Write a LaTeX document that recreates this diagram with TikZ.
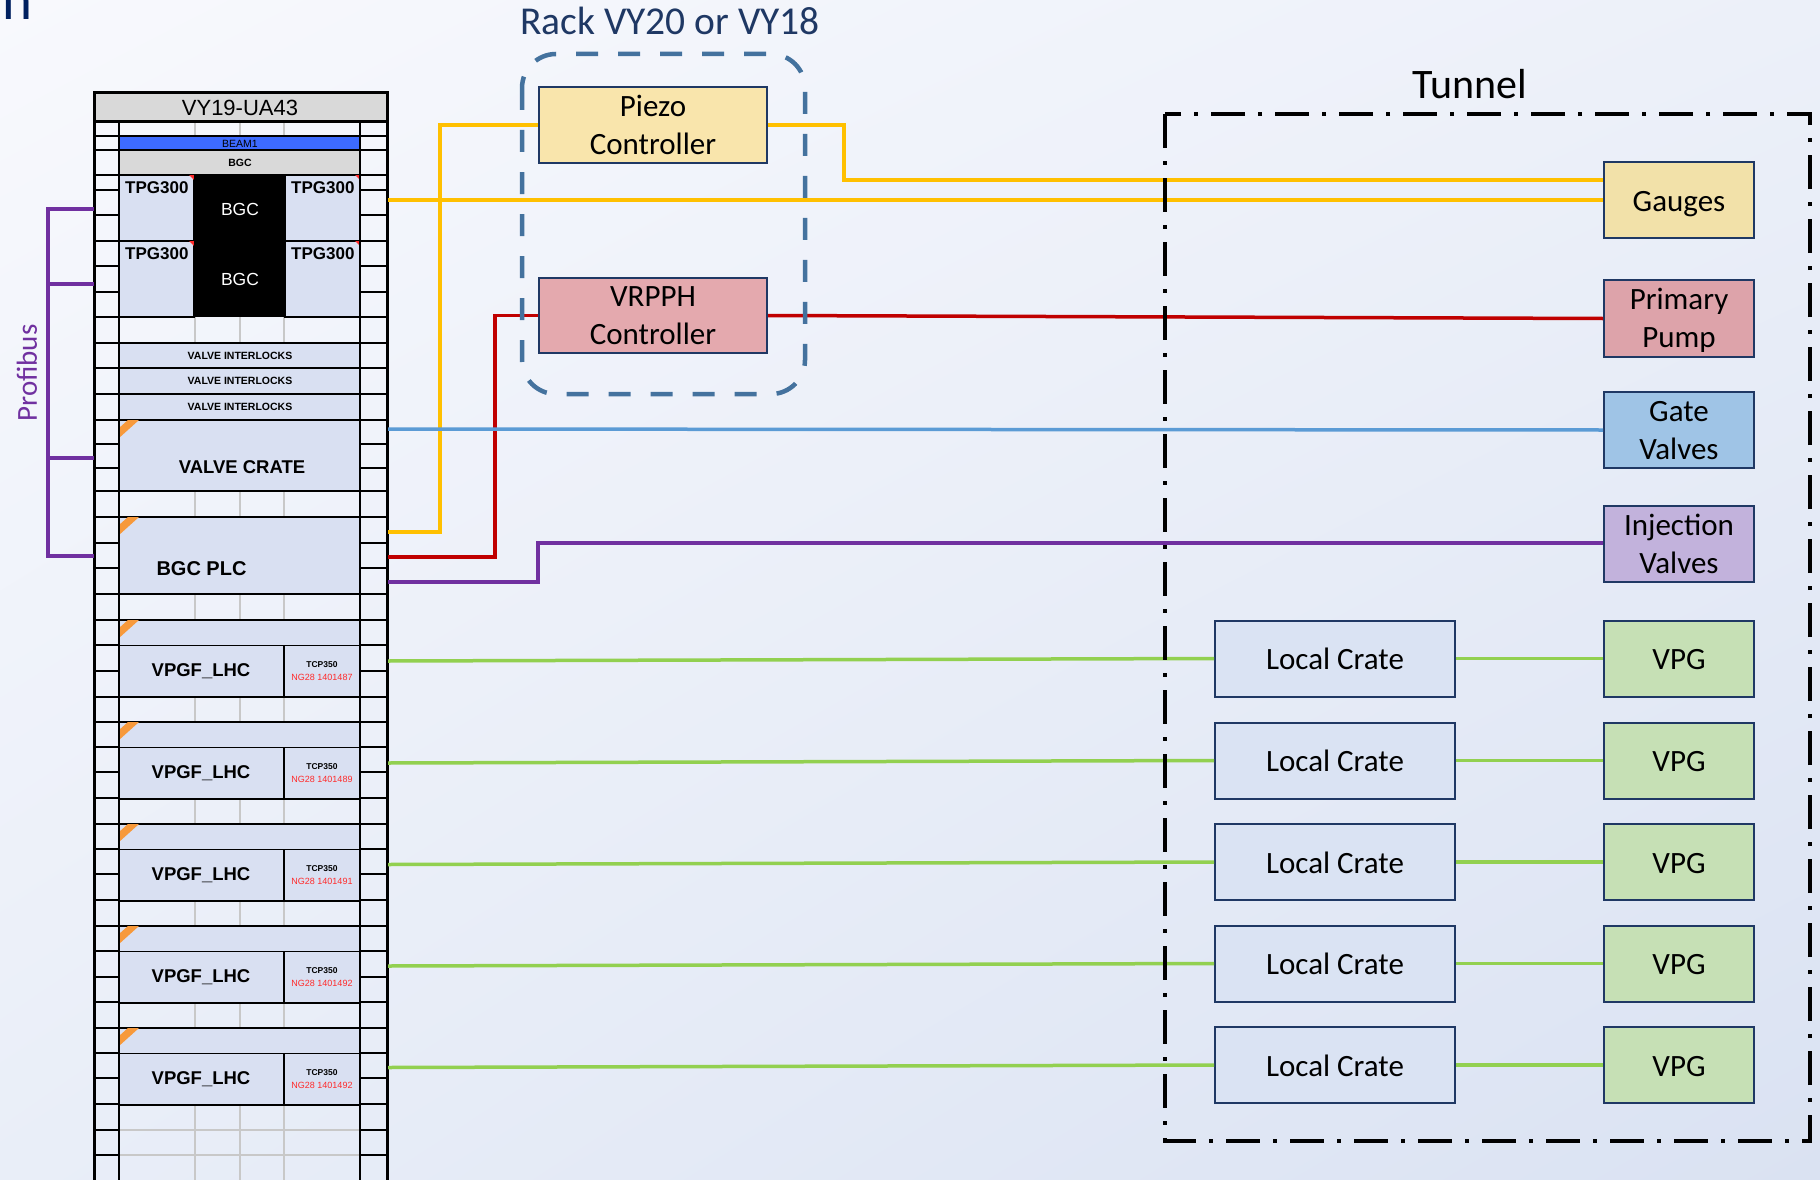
\documentclass[tikz,border=0pt]{standalone}
\usepackage{fontspec}
\setmainfont{Carlito}
\newfontfamily\rackfont{Liberation Sans}
\usetikzlibrary{calc,shadings}

\definecolor{bgUL}{HTML}{F8F9FD}
\definecolor{bgUR}{HTML}{ECF0F9}
\definecolor{bgLL}{HTML}{E9EEF8}
\definecolor{bgLR}{HTML}{DAE2F2}
\definecolor{navy}{HTML}{1F3864}
\definecolor{titlenavy}{HTML}{002060}
\definecolor{rackgray}{HTML}{D9D9D9}
\definecolor{modfill}{HTML}{D9E0F2}
\definecolor{beamblue}{HTML}{3D6BFF}
\definecolor{gridgray}{HTML}{C8C8C8}
\definecolor{stripe}{HTML}{F7993B}
\definecolor{tagred}{HTML}{FF2B2B}
\definecolor{wireY}{HTML}{FFC000}
\definecolor{wireR}{HTML}{C00000}
\definecolor{wireB}{HTML}{5B9BD5}
\definecolor{wireP}{HTML}{7030A0}
\definecolor{wireG}{HTML}{92D050}
\definecolor{rackedge}{HTML}{44729E}
\definecolor{fPiezo}{HTML}{F9E5AC}
\definecolor{fVrpph}{HTML}{E4A9AE}
\definecolor{fGauge}{HTML}{F2E1A9}
\definecolor{fPump}{HTML}{DDA3AA}
\definecolor{fGate}{HTML}{9FC4E6}
\definecolor{fInj}{HTML}{C2B2DC}
\definecolor{fCrate}{HTML}{DAE3F3}
\definecolor{fVpg}{HTML}{C6E0B5}

\newcommand\fsz[2]{\fontsize{#1}{#2}\selectfont}

\begin{document}
\begin{tikzpicture}[x=1pt,y=-1pt,
  devbox/.style={draw=navy, line width=2pt, inner sep=0pt, align=center,
    minimum width=150pt, minimum height=76pt, font=\fsz{31}{38},
    text height=22pt, text depth=0pt},
  twoline/.style={text height=58pt, text depth=0pt},
  wire/.style={line width=3.5pt},
  mod/.style={fill=modfill, draw=black, line width=1.5pt},
  gridln/.style={draw=gridgray, line width=1.2pt},
  racktxt/.style={inner sep=0pt, font=\rackfont},
]
\useasboundingbox (0,0) rectangle (1820,1180);
\shade[upper left=bgUL, upper right=bgUR, lower left=bgLL, lower right=bgLR]
  (0,0) rectangle (1820,1180);

% cut title letter at the top edge
\node[anchor=base west, inner sep=0pt, text=titlenavy, font=\fsz{57}{57}] (ttl) at (2,20) {n};

% ---------------- rack VY19-UA43 ----------------
% side column unit lines
\foreach \y in {122,136,150,175,190,215,241,266,292,317,343,368,394,420,444,468,
  491,517,543,568,594,620,645,671,697,722,747,772,798,824,849,874,900,926,951,
  977,1002,1028,1053,1078,1104,1130,1155}{
  \draw[line width=1.5pt] (94,\y) -- (119,\y);
  \draw[line width=1.5pt] (360,\y) -- (387,\y);
}
% empty slots: light grid
\foreach \ya/\yb in {122/136,317/343,491/517,594/620,697/722,798/824,900/926,1002/1028,1104/1180}{
  \foreach \x in {195,240,284}{ \draw[gridln] (\x,\ya) -- (\x,\yb); }
}
\draw[gridln] (119,1130) -- (360,1130);
\draw[gridln] (119,1155) -- (360,1155);

% top strips
\draw[fill=beamblue, draw=black, line width=1.5pt] (119,136) rectangle (360,150);
\node[racktxt, font=\rackfont\fsz{10.5}{10.5}] (beam) at (240,143.5) {BEAM1};
\draw[fill=rackgray, draw=black, line width=1.5pt] (119,150) rectangle (360,175);
\node[racktxt, font=\rackfont\bfseries\fsz{10.5}{10.5}] (bgcstrip) at (240,163) {BGC};

% TPG300 gauges with BGC
\foreach \ya/\yb/\k in {175/241/1,241/317/2}{
  \draw[mod] (119,\ya) rectangle (194,\yb);
  \draw[mod] (285,\ya) rectangle (360,\yb);
  \fill[tagred] (194,\ya) -- (189,\ya) -- (194,{\ya+5}) -- cycle;
  \fill[tagred] (360,\ya) -- (355,\ya) -- (360,{\ya+5}) -- cycle;
  \node[racktxt, anchor=base west, font=\rackfont\bfseries\fsz{17}{17}] (tpgl\k) at (125,{\ya+18}) {TPG300};
  \node[racktxt, anchor=base west, font=\rackfont\bfseries\fsz{17}{17}] (tpgr\k) at (291,{\ya+18}) {TPG300};
}
\fill[black] (194,175) rectangle (285,317);
\node[racktxt, text=white, font=\rackfont\fsz{17.5}{17.5}] (bgc1) at (240,209) {BGC};
\node[racktxt, text=white, font=\rackfont\fsz{17.5}{17.5}] (bgc2) at (240,279) {BGC};

% valve interlocks
\foreach \ya/\k in {343/1,368/2,394/3}{
  \draw[mod] (119,\ya) rectangle (360,{\ya+25.5});
  \node[racktxt, font=\rackfont\bfseries\fsz{10.5}{10.5}] (vi\k) at (240,{\ya+13}) {VALVE INTERLOCKS};
}

% valve crate
\draw[mod] (119,420) rectangle (360,491);
\fill[stripe] (119,428) -- (128,420) -- (139,420) -- (119,438) -- cycle;
\node[racktxt, font=\rackfont\bfseries\fsz{18.5}{18.5}] (vcrate) at (242,467) {VALVE CRATE};

% BGC PLC
\draw[mod] (119,517) rectangle (360,594);
\fill[stripe] (119,525) -- (128,517) -- (139,517) -- (119,535) -- cycle;
\node[racktxt, font=\rackfont\bfseries\fsz{20}{20}] (plc) at (201.5,569) {BGC PLC};

% VPGF_LHC crates
\foreach \b/\sn [count=\i] in {620/1401487,722/1401489,824/1401491,926/1401492,1028/1401492}{
  \draw[mod] (119,\b) rectangle (360,{\b+25.5});
  \fill[stripe] (119,{\b+8}) -- (128,\b) -- (139,\b) -- (119,{\b+18}) -- cycle;
  \draw[mod] (119,{\b+25.5}) rectangle (284,{\b+77});
  \draw[mod] (284,{\b+25.5}) rectangle (360,{\b+77});
  \node[racktxt, font=\rackfont\bfseries\fsz{18.5}{18.5}] (vpgf\i) at (201,{\b+51.5}) {VPGF\_LHC};
  \node[racktxt, font=\rackfont\bfseries\fsz{8.5}{8.5}] (tcp\i) at (322,{\b+45}) {TCP350};
  \node[racktxt, text=tagred, font=\rackfont\fsz{9}{9}] (ng\i) at (322,{\b+57}) {NG28 \sn};
}

% rack frame
\draw[line width=2pt] (119,122) -- (119,1180);
\draw[line width=2pt] (360,122) -- (360,1180);
\draw[line width=3pt] (94,93) -- (94,1180);
\draw[line width=3pt] (387,93) -- (387,1180);
\draw[fill=rackgray, draw=black, line width=3pt] (94,93) rectangle (387,122);
\node[racktxt, font=\rackfont\fsz{22}{22}] (rackname) at (240,108) {VY19-UA43};

% rack output ports
\coordinate (pGauge) at (388,200);
\coordinate (pGate)  at (388,429);
\coordinate (pPiezo) at (388,532);
\coordinate (pVrpph) at (388,557);
\coordinate (pInj)   at (388,582);

% Profibus link
\draw[wireP, line width=3.3pt] (94,209) -- (48,209) -- (48,556) -- (94,556);
\draw[wireP, line width=3.3pt] (48,284) -- (94,284);
\draw[wireP, line width=3.3pt] (48,458) -- (94,458);
\node[rotate=90, text=wireP, inner sep=0pt, font=\fsz{29}{29}] (profibus) at (27,373) {Profibus};

% ---------------- rack VY20 / VY18 ----------------
\node[anchor=base, inner sep=0pt, text=navy, font=\fsz{39.5}{39.5}] (rack2) at (670,35) {Rack VY20 or VY18};
\node[devbox, twoline, fill=fPiezo, minimum width=228pt, minimum height=76pt] (piezo) at (653,125) {Piezo\\Controller};
\node[devbox, twoline, fill=fVrpph, minimum width=228pt, minimum height=75pt] (vrpph) at (653,315.5) {VRPPH\\Controller};

% ---------------- tunnel devices ----------------
\node[anchor=base, inner sep=0pt, font=\fsz{42}{42}] (tunnel) at (1470,99) {Tunnel};
\node[devbox, fill=fGauge] (gauges) at (1679,200) {Gauges};
\node[devbox, twoline, fill=fPump, minimum height=77pt] (pump) at (1679,318.5) {Primary\\Pump};
\node[devbox, twoline, fill=fGate] (gate) at (1679,430) {Gate\\Valves};
\node[devbox, twoline, fill=fInj] (inj) at (1679,544) {Injection\\Valves};
\foreach \c [count=\i] in {658.5,760.5,862,963.5,1065}{
  \node[devbox, fill=fCrate, minimum width=240pt] (lc\i) at (1335,\c) {Local Crate};
  \node[devbox, fill=fVpg] (vpg\i) at (1679,\c) {VPG};
  \coordinate (pG\i) at (388,{\c+2.5});
}

% ---------------- cabling ----------------
\draw[wire, wireY] (pPiezo) -| ($(piezo.west)+(-98,0)$) -- (piezo.west);
\draw[wire, wireY] (piezo.east) -- ++(76,0) |- ($(gauges.west)+(0,-20)$);
\draw[wire, wireY] (pGauge) -- (gauges.west);
\draw[wire, wireR] (pVrpph) -| ($(vrpph.west)+(-43,0)$) -- (vrpph.west);
\draw[wire, wireR] (vrpph.east) -- (pump.west);
\draw[wire, wireB] (pGate) -- (gate.west);
\draw[wire, wireP] (pInj) -| ($(inj.west)+(-1065,-1)$) -- ($(inj.west)+(0,-1)$);
\foreach \i in {1,...,5}{
  \draw[wire, wireG] (pG\i) -- (lc\i.west);
  \draw[wire, wireG] (lc\i.east) -- (vpg\i.west);
}

% enclosures
\draw[rackedge, line width=4.5pt, dash pattern=on 22pt off 20pt, rounded corners=34pt]
  (522,54) rectangle (805,394);
\draw[black, line width=4pt, dash pattern=on 34pt off 13pt on 4pt off 13pt]
  (1165,114) rectangle (1810,1141);
\end{tikzpicture}
\end{document}
